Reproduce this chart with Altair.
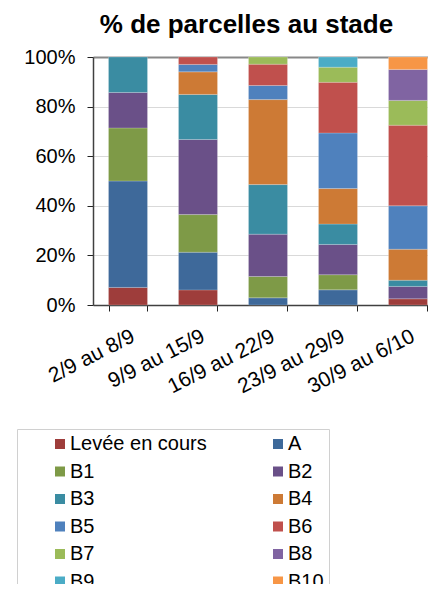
import altair as alt
import pandas as pd

periods = ["2/9 au 8/9", "9/9 au 15/9", "16/9 au 22/9", "23/9 au 29/9", "30/9 au 6/10"]
stages = ["Levée en cours", "A", "B1", "B2", "B3", "B4", "B5", "B6", "B7", "B8", "B9", "B10"]
colors = ["#9e3d3b", "#3e699a", "#7e9a47", "#6a5088", "#3a8ca2", "#cd7a35",
          "#4f81bd", "#c0504d", "#9bbb59", "#8064a2", "#4bacc6", "#f79646"]

levee = [7.1, 6.1, 0.0, 0.0, 2.5]
stade_a = [42.9, 15.2, 2.9, 6.1, 0.0]
b1 = [21.4, 15.2, 8.6, 6.1, 0.0]
b2 = [14.3, 30.3, 17.1, 12.2, 5.0]
b3 = [14.3, 18.2, 20.0, 8.2, 2.5]
b4 = [0.0, 9.1, 34.3, 14.3, 12.5]
b5 = [0.0, 3.0, 5.7, 22.4, 17.5]
b6 = [0.0, 3.0, 8.6, 20.4, 32.5]
b7 = [0.0, 0.0, 2.9, 6.1, 10.0]
b8 = [0.0, 0.0, 0.0, 0.0, 12.5]
b9 = [0.0, 0.0, 0.0, 4.1, 0.0]
b10 = [0.0, 0.0, 0.0, 0.0, 5.0]

series = [levee, stade_a, b1, b2, b3, b4, b5, b6, b7, b8, b9, b10]

rows = []
for si, (stage, vals) in enumerate(zip(stages, series)):
    for p, v in zip(periods, vals):
        if v > 0:
            rows.append({"periode": p, "stade": stage, "ordre": si, "valeur": v})
df = pd.DataFrame(rows)

# legend is laid out column by column: list entries so that rows read
# "Levée en cours, A", "B1, B2", ...
legend_order = stages[0::2] + stages[1::2]
legend_colors = [colors[stages.index(s)] for s in legend_order]

FONT = "Liberation Sans"

chart = alt.Chart(df).mark_bar(stroke="white", strokeWidth=0.5, strokeOpacity=0.4).encode(
    x=alt.X(
        "periode:N", sort=periods, title=None,
        scale=alt.Scale(range=[0, 350], paddingInner=0.443, paddingOuter=0.2215),
        axis=alt.Axis(
            labelAngle=333, labelAlign="right", labelBaseline="top",
            labelFontSize=21, labelFont=FONT, labelColor="black",
            tickBand="extent", tickSize=6, tickColor="#222222",
            domainColor="#404040", domainWidth=1.5, labelPadding=14, grid=False,
        ),
    ),
    y=alt.Y(
        "valeur:Q", stack="normalize", title=None,
        scale=alt.Scale(domain=[0, 1]),
        axis=alt.Axis(
            values=[0, 0.2, 0.4, 0.6, 0.8, 1], format=".0%",
            labelFontSize=20, labelFont=FONT, labelColor="black", labelPadding=12,
            tickSize=6, tickColor="#222222", domainColor="#404040", domainWidth=1.5,
            gridColor={"condition": {"test": "datum.value === 1", "value": "#888888"}, "value": "#d9d9d9"},
            gridWidth={"condition": {"test": "datum.value === 1", "value": 2}, "value": 1},
        ),
    ),
    color=alt.Color(
        "stade:N", sort=legend_order,
        scale=alt.Scale(domain=legend_order, range=legend_colors),
        legend=alt.Legend(
            title=None, orient="none", legendX=-76, legendY=372, columns=2,
            symbolType="square", symbolSize=100, symbolStrokeWidth=0,
            labelFontSize=20, labelFont=FONT, labelColor="black", labelLimit=400,
            strokeColor="#d0d0d0", padding=5, symbolOffset=28, labelOffset=0,
            columnPadding=33, rowPadding=7.5, gridAlign="all",
        ),
    ),
    order=alt.Order("ordre:Q", sort="ascending"),
).properties(
    width=335, height=248,
    autosize=alt.AutoSizeParams(type="none"),
    padding={"left": 85, "top": 49, "right": 0, "bottom": 279},
    title=alt.Title(
        "% de parcelles au stade", fontSize=26, fontWeight="bold", font=FONT,
        color="black", anchor="middle", frame="group", dx=-14, dy=36, offset=24,
        baseline="alphabetic",
    ),
).configure_view(stroke=None)

chart.save("out.html", embed_options={"renderer": "svg", "actions": False})
